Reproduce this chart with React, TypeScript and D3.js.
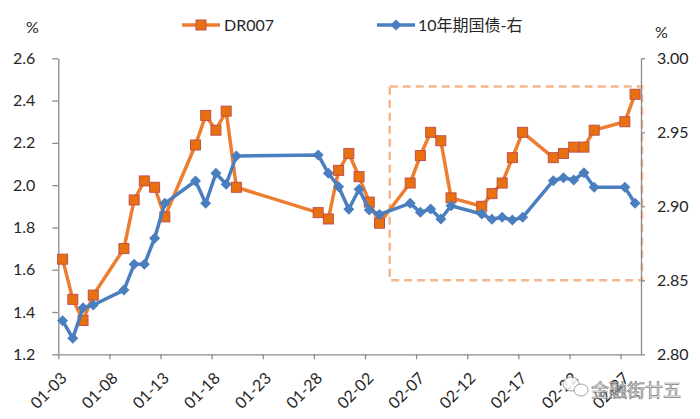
import { useEffect, useRef } from "react";
import * as d3 from "d3";

// trading days (2017), DR007 (left axis, %) and 10y CGB yield (right axis, %)
const dates = [
  "01-03", "01-04", "01-05", "01-06", "01-09", "01-10", "01-11", "01-12", "01-13",
  "01-16", "01-17", "01-18", "01-19", "01-20", "01-28", "01-29", "01-30", "01-31",
  "02-01", "02-02", "02-03", "02-06", "02-07", "02-08", "02-09", "02-10", "02-13",
  "02-14", "02-15", "02-16", "02-17", "02-20", "02-21", "02-22", "02-23", "02-24",
  "02-27", "02-28",
];
const dr007 = [
  1.65, 1.46, 1.36, 1.48, 1.70, 1.93, 2.02, 1.99, 1.85,
  2.19, 2.33, 2.26, 2.35, 1.99, 1.87, 1.84, 2.07, 2.15,
  2.04, 1.92, 1.82, 2.01, 2.14, 2.25, 2.21, 1.94, 1.90,
  1.96, 2.01, 2.13, 2.25, 2.13, 2.15, 2.18, 2.18, 2.26,
  2.30, 2.43,
];
const cgb10y = [
  2.8227, 2.8108, 2.8315, 2.8333, 2.8434, 2.8608, 2.8608, 2.8784, 2.902,
  2.9171, 2.902, 2.9223, 2.9149, 2.934, 2.9347, 2.9223, 2.9132, 2.898,
  2.9115, 2.8975, 2.8945, 2.902, 2.8959, 2.8982, 2.8914, 2.9004, 2.8948,
  2.8912, 2.8926, 2.8907, 2.8926, 2.9173, 2.9193, 2.9178, 2.9227, 2.9128,
  2.9128, 2.902,
];
const leftTicks = [1.2, 1.4, 1.6, 1.8, 2.0, 2.2, 2.4, 2.6];
const rightTicks = [2.8, 2.85, 2.9, 2.95, 3.0];
const legendNames = ["DR007", "10年期国债-右"];

const FONT = "Lato, 'Noto Sans CJK SC', sans-serif";
const ORANGE = "#ED7D31";
const BLUE = "#4A7EBF";
const AXIS = "#8c8c8c";

const toDate = (s: string) => {
  const [m, d] = s.split("-").map(Number);
  return new Date(Date.UTC(2017, m - 1, d));
};

export default function App() {
  const svgRef = useRef<SVGSVGElement>(null);

  useEffect(() => {
    const W = 700, H = 419;
    const left = 58.3, right = 641, top = 58.3, bottom = 354.3;
    const svg = d3.select(svgRef.current).attr("width", W).attr("height", H);
    svg.selectAll("*").remove();

    const x = d3.scaleUtc()
      .domain([toDate("01-03"), toDate("03-01")])
      .range([left, right]);
    const yL = d3.scaleLinear().domain([1.2, 2.6]).range([bottom, top]);
    const yR = d3.scaleLinear().domain([2.8, 3.0]).range([bottom, top]);
    // points sit inside their day slot, like an Excel date axis
    const dayW = x(toDate("01-04")) - x(toDate("01-03"));
    const px = (s: string) => x(toDate(s)) + dayW * 0.42;

    // highlight box
    const bx0 = px("02-04");
    svg.append("rect")
      .attr("x", bx0).attr("y", yR(2.981))
      .attr("width", right + 1 - bx0).attr("height", yR(2.85) - yR(2.981))
      .attr("fill", "none").attr("stroke", "#F6B58A")
      .attr("stroke-width", 2.5).attr("stroke-dasharray", "8,5");

    // axes
    const styleAxis = (g: any) => {
      g.selectAll("path, line").attr("stroke", AXIS).attr("stroke-width", 1.3);
      g.selectAll("text").attr("fill", "#262626").style("font-family", FONT).style("font-size", "16px");
    };

    const xTicks = d3.utcDay.range(toDate("01-03"), toDate("02-28"), 5);
    const xAxis = svg.append("g")
      .attr("transform", `translate(0,${bottom})`)
      .call(d3.axisBottom(x).tickValues(xTicks).tickFormat(d3.utcFormat("%m-%d") as any)
        .tickSize(5).tickSizeOuter(0));
    styleAxis(xAxis);
    xAxis.selectAll("text")
      .attr("text-anchor", "end")
      .attr("dy", "0.35em")
      .attr("y", 0)
      .attr("transform", "translate(5,21) rotate(-45)");

    const yAxisL = svg.append("g")
      .attr("transform", `translate(${left},0)`)
      .call(d3.axisLeft(yL).tickValues(leftTicks).tickFormat(d3.format(".1f") as any)
        .tickSize(6).tickSizeOuter(0).tickPadding(17));
    styleAxis(yAxisL);

    const yAxisR = svg.append("g")
      .attr("transform", `translate(${right},0)`)
      .call(d3.axisRight(yR).tickValues(rightTicks).tickFormat(d3.format(".2f") as any)
        .tickSize(4).tickSizeOuter(0).tickPadding(12));
    styleAxis(yAxisR);

    // unit labels
    svg.append("text").attr("x", 26).attr("y", 33).text("%")
      .attr("fill", "#262626").style("font-family", FONT).style("font-size", "16px");
    svg.append("text").attr("x", 655).attr("y", 38).text("%")
      .attr("fill", "#262626").style("font-family", FONT).style("font-size", "16px");

    // series
    const lineL = d3.line<string>().x((d) => px(d)).y((d, i) => yL(dr007[i]));
    const lineR = d3.line<string>().x((d) => px(d)).y((d, i) => yR(cgb10y[i]));
    const diamond = "M0,-5.5L5.5,0L0,5.5L-5.5,0Z";

    svg.append("path").attr("d", lineL(dates)).attr("fill", "none")
      .attr("stroke", ORANGE).attr("stroke-width", 3.5).attr("stroke-linejoin", "round");
    svg.append("g").selectAll("rect").data(dates).join("rect")
      .attr("x", (d) => px(d) - 5).attr("y", (d, i) => yL(dr007[i]) - 5)
      .attr("width", 10).attr("height", 10)
      .attr("fill", "#E8700F").attr("stroke", "#C0504D").attr("stroke-width", 1);

    svg.append("path").attr("d", lineR(dates)).attr("fill", "none")
      .attr("stroke", BLUE).attr("stroke-width", 3.5).attr("stroke-linejoin", "round");
    svg.append("g").selectAll("path").data(dates).join("path")
      .attr("d", diamond)
      .attr("transform", (d, i) => `translate(${px(d)},${yR(cgb10y[i])})`)
      .attr("fill", BLUE);

    // legend
    const lg = svg.append("g").style("font-family", FONT).style("font-size", "16px");
    lg.append("line").attr("x1", 182).attr("x2", 220).attr("y1", 25).attr("y2", 25)
      .attr("stroke", ORANGE).attr("stroke-width", 3.5);
    lg.append("rect").attr("x", 196).attr("y", 20).attr("width", 10).attr("height", 10)
      .attr("fill", "#E8700F").attr("stroke", "#C0504D");
    lg.append("text").attr("x", 224).attr("y", 31).attr("fill", "#262626").text(legendNames[0]);
    lg.append("line").attr("x1", 377).attr("x2", 415).attr("y1", 25).attr("y2", 25)
      .attr("stroke", BLUE).attr("stroke-width", 3.5);
    lg.append("path").attr("d", diamond).attr("transform", "translate(396,25)").attr("fill", BLUE);
    lg.append("text").attr("x", 418).attr("y", 31).attr("fill", "#262626").text(legendNames[1]);

    // watermark
    const wm = svg.append("g").attr("opacity", 0.85);
    wm.append("ellipse").attr("cx", 571).attr("cy", 384).attr("rx", 8).attr("ry", 7)
      .attr("fill", "#fff").attr("stroke", "#777").attr("stroke-width", 0.8);
    wm.append("ellipse").attr("cx", 581).attr("cy", 390).attr("rx", 7).attr("ry", 6)
      .attr("fill", "#fff").attr("stroke", "#777").attr("stroke-width", 0.8);
    wm.append("text").attr("x", 591).attr("y", 397).text("金融街廿五")
      .attr("fill", "#f4f4f4").attr("stroke", "#666").attr("stroke-width", 0.7)
      .style("font-family", "'Noto Sans CJK SC', sans-serif").style("font-size", "18px");
  }, []);

  return (
    <div style={{ position: "absolute", left: 0, top: 0, background: "#fff" }}>
      <svg ref={svgRef} style={{ display: "block" }}></svg>
    </div>
  );
}
